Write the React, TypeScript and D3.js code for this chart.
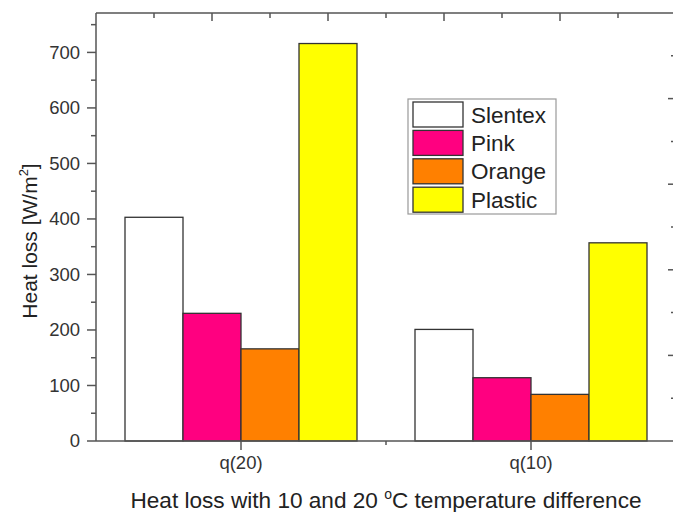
import { useEffect, useRef } from "react";
import * as d3 from "d3";

const categories = ["q(20)", "q(10)"];
const seriesNames = ["Slentex", "Pink", "Orange", "Plastic"];
const slentex = [403, 201];
const pink = [230, 114];
const orange = [166, 84];
const plastic = [716, 357];
const yTicks = [0, 100, 200, 300, 400, 500, 600, 700];

const colors = ["#ffffff", "#ff0080", "#ff8000", "#ffff00"];
const FONT = "Arial, 'Liberation Sans', sans-serif";

export default function App() {
  const svgRef = useRef<SVGSVGElement | null>(null);

  useEffect(() => {
    if (!svgRef.current) return;
    const width = 673;
    const height = 512;
    const left = 96, right = 676, top = 13, bottom = 441;

    const svg = d3.select(svgRef.current);
    svg.selectAll("*").remove();
    svg.attr("width", width).attr("height", height);

    const series = [slentex, pink, orange, plastic];

    const x = d3.scaleLinear().domain([0.5, 2.5]).range([left, right]);
    const y = d3.scaleLinear().domain([0, 771]).range([bottom, top]);
    const xSub = d3.scaleBand<string>().domain(seriesNames).range([-0.4, 0.4]);
    // frame axes (top / right) use a 0..1 scale like Origin
    const xTop = d3.scaleLinear().domain([0, 1]).range([left, right]);
    const yRight = d3.scaleLinear().domain([0, 1]).range([bottom, top]);

    const axisColor = "#555";
    const textColor = "#333";

    // bars
    seriesNames.forEach((name, j) => {
      svg.append("g")
        .selectAll("rect")
        .data(series[j])
        .enter()
        .append("rect")
        .attr("x", (_, i) => x(i + 1 + xSub(name)!))
        .attr("width", x(xSub.bandwidth()) - x(0))
        .attr("y", d => y(d))
        .attr("height", d => y(0) - y(d))
        .attr("fill", colors[j])
        .attr("stroke", "#333")
        .attr("stroke-width", 1.3);
    });

    const ax = svg.append("g").attr("stroke", axisColor).attr("stroke-width", 1.5).attr("fill", "none");
    // frame lines
    ax.append("line").attr("x1", left).attr("x2", right).attr("y1", bottom).attr("y2", bottom);
    ax.append("line").attr("x1", left).attr("x2", right).attr("y1", top).attr("y2", top);
    ax.append("line").attr("x1", left).attr("x2", left).attr("y1", top).attr("y2", bottom);
    ax.append("line").attr("x1", right).attr("x2", right).attr("y1", top).attr("y2", bottom);

    // left ticks
    const yMinor = d3.range(50, 771, 100);
    ax.selectAll("line.ly").data(yTicks).enter().append("line")
      .attr("x1", left - 9).attr("x2", left).attr("y1", d => y(d)).attr("y2", d => y(d));
    ax.selectAll("line.lym").data(yMinor).enter().append("line")
      .attr("x1", left - 5).attr("x2", left).attr("y1", d => y(d)).attr("y2", d => y(d));

    svg.append("g").selectAll("text").data(yTicks).enter().append("text")
      .attr("x", left - 16).attr("y", d => y(d)).attr("dy", "0.35em")
      .attr("text-anchor", "end").attr("font-family", FONT).attr("font-size", 18.5)
      .attr("fill", textColor).text(d => d);

    // bottom ticks
    ax.selectAll("line.bx").data(categories).enter().append("line")
      .attr("x1", (_, i) => x(i + 1)).attr("x2", (_, i) => x(i + 1))
      .attr("y1", bottom).attr("y2", bottom + 9);
    ax.append("line").attr("x1", x(1.5)).attr("x2", x(1.5)).attr("y1", bottom).attr("y2", bottom + 4);

    svg.append("g").selectAll("text").data(categories).enter().append("text")
      .attr("x", (_, i) => x(i + 1)).attr("y", 469)
      .attr("text-anchor", "middle").attr("font-family", FONT).attr("font-size", 18.5)
      .attr("fill", textColor).text(d => d);

    // top ticks (inward)
    const fracs = d3.range(1, 10).map(k => k / 10);
    ax.selectAll("line.tx").data(fracs).enter().append("line")
      .attr("x1", d => xTop(d)).attr("x2", d => xTop(d))
      .attr("y1", top).attr("y2", (_, i) => top + (i % 2 === 1 ? 8 : 5));
    // right ticks (inward)
    ax.selectAll("line.ry").data(fracs).enter().append("line")
      .attr("y1", d => yRight(d)).attr("y2", d => yRight(d))
      .attr("x1", right).attr("x2", (_, i) => right - (i % 2 === 1 ? 8 : 5));

    // axis titles
    const yl = svg.append("text")
      .attr("transform", `translate(37,241) rotate(-90)`)
      .attr("text-anchor", "middle").attr("font-family", FONT).attr("font-size", 21)
      .attr("fill", "#222");
    yl.append("tspan").text("Heat loss [W/m");
    yl.append("tspan").attr("dy", -9).attr("font-size", 13).text("2");
    yl.append("tspan").attr("dy", 9).text("]");

    const xl = svg.append("text")
      .attr("x", 386).attr("y", 508)
      .attr("text-anchor", "middle").attr("font-family", FONT).attr("font-size", 22.6)
      .attr("fill", "#222");
    xl.append("tspan").text("Heat loss with 10 and 20 ");
    xl.append("tspan").attr("dy", -9).attr("font-size", 14).text("o");
    xl.append("tspan").attr("dy", 9).text("C temperature difference");

    // legend
    const lg = svg.append("g");
    lg.append("rect").attr("x", 408).attr("y", 99).attr("width", 148).attr("height", 115)
      .attr("fill", "#fff").attr("stroke", "#999").attr("stroke-width", 1.2);
    seriesNames.forEach((name, j) => {
      const yy = 102 + j * 28.4;
      lg.append("rect").attr("x", 413).attr("y", yy).attr("width", 50).attr("height", 25)
        .attr("fill", colors[j]).attr("stroke", "#333").attr("stroke-width", 1.3);
      lg.append("text").attr("x", 471).attr("y", yy + 20.5)
        .attr("font-family", FONT).attr("font-size", 22.5).attr("fill", "#222").text(name);
    });
  }, []);

  return <svg ref={svgRef} style={{ position: "absolute", left: 0, top: 0 }} />;
}
